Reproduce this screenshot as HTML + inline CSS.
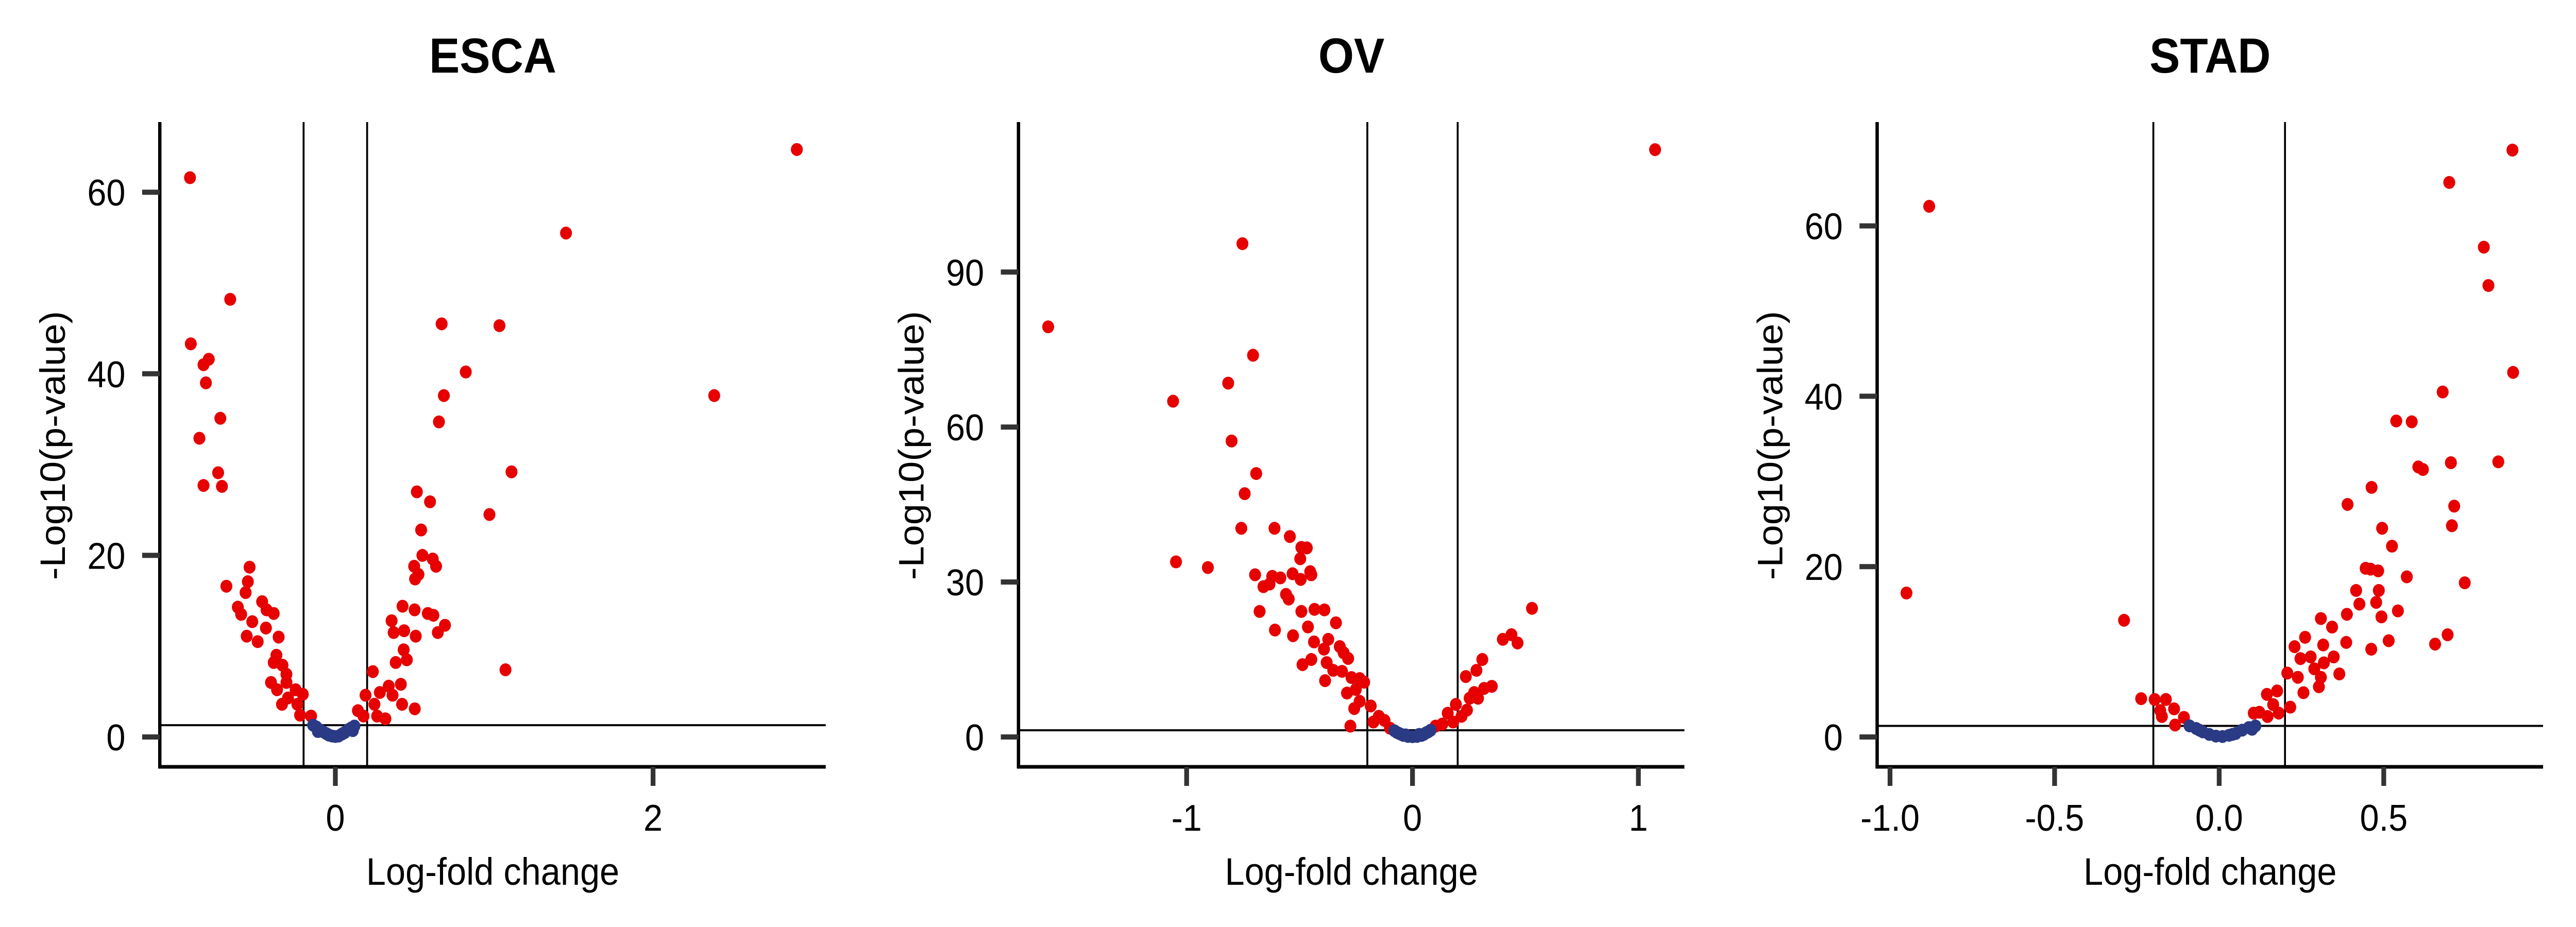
<!DOCTYPE html>
<html><head><meta charset="utf-8"><style>
html,body{margin:0;padding:0;background:#fff;overflow:hidden;width:100%;height:100%;}
svg{display:block;width:100vw;height:100vh;font-family:"Liberation Sans",Arial,sans-serif;}
</style></head><body>
<svg id="chart" viewBox="0 0 5400 1800" preserveAspectRatio="none" xmlns="http://www.w3.org/2000/svg"></svg>
<script>
const panelTitles = ["ESCA","OV","STAD"];
const escaRed = [[-0.915,61.6],[-0.91,43.3],[-0.83,41.0],[-0.797,41.6],[-0.815,39.0],[-0.724,35.1],[-0.856,32.9],[-0.738,29.1],[-0.83,27.7],[-0.714,27.6],[-0.662,48.2],[0.669,45.5],[1.033,45.3],[0.821,40.2],[0.683,37.6],[0.652,34.7],[1.452,55.5],[2.905,64.7],[2.385,37.6],[1.109,29.2],[0.97,24.5],[1.071,7.4],[0.513,27.0],[0.596,25.9],[0.54,22.8],[0.548,20.0],[0.613,19.6],[0.634,18.8],[0.496,18.8],[0.523,17.9],[0.502,17.4],[0.423,14.4],[0.499,14.0],[0.582,13.6],[0.617,13.4],[0.69,12.3],[0.645,11.5],[0.354,12.8],[0.367,11.5],[0.433,11.7],[0.506,11.1],[0.43,9.6],[0.45,8.5],[0.38,8.2],[0.236,7.2],[0.412,5.8],[0.336,5.6],[0.36,4.6],[0.42,3.6],[0.5,3.1],[0.19,4.6],[0.28,4.9],[0.246,3.6],[0.315,2.0],[0.142,2.9],[0.177,2.3],[0.263,2.3],[-0.54,18.7],[-0.551,17.1],[-0.565,15.9],[-0.686,16.6],[-0.461,14.9],[-0.614,14.3],[-0.593,13.5],[-0.523,12.7],[-0.433,14.0],[-0.388,13.6],[-0.437,12.0],[-0.558,11.1],[-0.489,10.5],[-0.357,11.0],[-0.371,9.0],[-0.388,8.2],[-0.333,7.9],[-0.308,6.9],[-0.405,6.0],[-0.367,5.2],[-0.308,6.0],[-0.25,5.2],[-0.205,4.7],[-0.336,3.6],[-0.298,4.3],[-0.222,2.4],[-0.153,2.3],[-0.239,3.6]];
const escaBlue = [[-0.14,1.3],[-0.12,1.1],[-0.1,0.8],[-0.08,0.6],[-0.06,0.4],[-0.04,0.2],[-0.02,0.1],[0,0.05],[0.02,0.1],[0.04,0.3],[0.06,0.5],[0.08,0.8],[0.1,1.0],[0.12,1.2],[-0.11,0.6],[0.11,0.7],[-0.05,0.3],[0.05,0.4]];
const ovRed = [[1.074,113.7],[-0.753,95.5],[-1.613,79.4],[-0.706,73.9],[-0.816,68.5],[-1.06,65.0],[-0.801,57.3],[-0.692,51.0],[-0.743,47.1],[-0.758,40.4],[-0.611,40.4],[-0.543,38.8],[-0.492,36.7],[-0.468,36.6],[-0.497,34.5],[-1.047,33.9],[-0.906,32.8],[-0.697,31.4],[-0.621,31.1],[-0.585,30.8],[-0.531,31.6],[-0.453,32.0],[-0.448,31.4],[-0.495,30.5],[-0.66,29.1],[-0.633,29.6],[-0.56,27.6],[-0.548,26.7],[-0.677,24.3],[-0.492,24.3],[-0.434,24.7],[-0.39,24.6],[-0.339,22.1],[-0.609,20.7],[-0.463,21.3],[-0.529,19.6],[-0.436,18.4],[-0.373,18.9],[-0.322,17.5],[-0.392,17.0],[-0.305,16.3],[-0.285,15.2],[-0.448,15.0],[-0.487,14.0],[-0.38,14.4],[-0.351,12.9],[-0.312,12.7],[-0.387,10.9],[-0.27,11.5],[-0.234,11.3],[-0.214,10.6],[-0.29,8.5],[-0.251,9.2],[-0.234,6.9],[-0.258,5.5],[-0.185,6.0],[-0.149,4.0],[-0.124,3.2],[-0.275,2.1],[-0.173,2.9],[-0.1,1.7],[0.529,24.9],[0.438,19.8],[0.4,18.9],[0.465,18.2],[0.309,15.0],[0.283,12.9],[0.236,11.7],[0.351,9.8],[0.317,9.4],[0.273,8.6],[0.253,7.5],[0.29,7.5],[0.192,6.3],[0.241,5.2],[0.217,4.0],[0.156,4.6],[0.132,2.5],[0.102,2.1],[0.18,2.9]];
const ovBlue = [[-0.08,1.2],[-0.07,0.9],[-0.06,0.7],[-0.05,0.5],[-0.04,0.3],[-0.02,0.1],[0,0.05],[0.02,0.1],[0.04,0.3],[0.05,0.5],[0.06,0.8],[0.07,1.0],[0.08,1.3],[-0.03,0.4],[0.03,0.5]];
const stadRed = [[-0.881,62.3],[-0.95,16.9],[-0.289,13.7],[-0.237,4.5],[-0.196,4.4],[-0.162,4.4],[-0.179,3.1],[-0.137,3.3],[-0.107,2.3],[-0.174,2.4],[-0.134,1.4],[0.891,68.9],[0.699,65.1],[0.804,57.5],[0.818,53.0],[0.893,42.8],[0.679,40.5],[0.538,37.1],[0.585,37.0],[0.704,32.2],[0.848,32.3],[0.605,31.7],[0.619,31.4],[0.463,29.3],[0.39,27.3],[0.714,27.1],[0.707,24.8],[0.495,24.5],[0.525,22.4],[0.445,19.8],[0.46,19.7],[0.483,19.5],[0.57,18.8],[0.746,18.1],[0.416,17.2],[0.485,17.2],[0.426,15.6],[0.477,15.8],[0.543,14.8],[0.388,14.4],[0.493,14.1],[0.309,13.9],[0.343,12.9],[0.261,11.7],[0.229,10.6],[0.316,10.8],[0.386,11.1],[0.515,11.3],[0.694,12.0],[0.656,10.9],[0.462,10.3],[0.247,9.2],[0.278,9.4],[0.318,8.7],[0.348,9.4],[0.289,8.0],[0.365,7.4],[0.207,7.5],[0.239,7.0],[0.309,7.0],[0.256,5.2],[0.303,5.9],[0.145,5.0],[0.176,5.4],[0.216,3.5],[0.164,3.8],[0.122,2.9],[0.147,2.4],[0.181,2.8],[0.105,2.8]];
const stadBlue = [[-0.09,1.3],[-0.07,1.0],[-0.05,0.6],[-0.03,0.3],[-0.01,0.1],[0.01,0.05],[0.03,0.2],[0.05,0.4],[0.07,0.8],[0.09,1.1],[0.11,1.3],[0.1,0.9],[-0.06,0.8],[0.04,0.3]];
const escaXTicks = [0,2], escaXLabels = ["0","2"], escaYTicks = [0,20,40,60];
const ovXTicks = [-1,0,1], ovXLabels = ["-1","0","1"], ovYTicks = [0,30,60,90];
const stadXTicks = [-1,-0.5,0,0.5], stadXLabels = ["-1.0","-0.5","0.0","0.5"], stadYTicks = [0,20,40,60];
const fcThreshold = 0.2, pThreshold = 1.3;

const NS="http://www.w3.org/2000/svg";
const svg=document.getElementById('chart');
function mk(tag,attrs,parent){const e=document.createElementNS(NS,tag);for(const k in attrs)e.setAttribute(k,attrs[k]);(parent||svg).appendChild(e);return e;}

const panels=[
 {off:0,x0:703,xu:333,yu:17.63,red:escaRed,blue:escaBlue,xt:escaXTicks,xl:escaXLabels,yt:escaYTicks,key:'esca'},
 {off:1800,x0:1161,xu:473.5,yu:10.03,red:ovRed,blue:ovBlue,xt:ovXTicks,xl:ovXLabels,yt:ovYTicks,key:'ov'},
 {off:3600,x0:1052,xu:690,yu:16.54,red:stadRed,blue:stadBlue,xt:stadXTicks,xl:stadXLabels,yt:stadYTicks,key:'stad'}
];
const Y0=1431, AX=335, AY=1489, TOP=237, RIGHT=1731;
panels.forEach((p,i)=>{
 const g=mk('g',{transform:`translate(${p.off},0)`});
 
 
 const sx=v=>p.x0+v*p.xu, sy=v=>Y0-v*p.yu;
 const t=mk('text',{x:1033,y:141,'text-anchor':'middle','font-size':96,'font-weight':'bold',fill:'#000'},g);
 t.textContent=panelTitles[i];
 
 
 [-fcThreshold,fcThreshold].forEach(v=>{
  const l=mk('line',{x1:sx(v),x2:sx(v),y1:TOP,y2:AY,stroke:'#000','stroke-width':4},g);
  
  
 });
 const h=mk('line',{x1:AX,x2:RIGHT,y1:sy(pThreshold),y2:sy(pThreshold),stroke:'#000','stroke-width':4},g);
 
 
 p.red.forEach(d=>{
  const c=mk('circle',{cx:sx(d[0]),cy:sy(d[1]),r:12.5,fill:'#e60000'},g);
  
  
 });
 p.blue.forEach(d=>{
  const c=mk('circle',{cx:sx(d[0]),cy:sy(d[1]),r:12.5,fill:'#2b3a85'},g);
  
  
 });
 const ya=mk('line',{x1:AX,x2:AX,y1:TOP,y2:AY+3,stroke:'#000','stroke-width':7},g);
 
 
 const xa=mk('line',{x1:AX-3,x2:RIGHT,y1:AY,y2:AY,stroke:'#000','stroke-width':7},g);
 
 
 p.yt.forEach(v=>{
  const tk=mk('line',{x1:298,x2:AX,y1:sy(v),y2:sy(v),stroke:'#333','stroke-width':10},g);
  
  
  const tl=mk('text',{x:263,y:sy(v)+26,'text-anchor':'end','font-size':72,fill:'#000'},g);
  tl.textContent=String(v);
  
  
 });
 p.xt.forEach((v,j)=>{
  const tk=mk('line',{x1:sx(v),x2:sx(v),y1:AY,y2:AY+37,stroke:'#333','stroke-width':10},g);
  
  
  const tl=mk('text',{x:sx(v),y:1613,'text-anchor':'middle','font-size':72,fill:'#000'},g);
  tl.textContent=p.xl[j];
  
  
 });
 const xt=mk('text',{x:1033,y:1718,'text-anchor':'middle','font-size':74,fill:'#000'},g);
 xt.textContent='Log-fold change';
 
 
 const yt=mk('text',{x:0,y:0,'text-anchor':'middle','font-size':74,fill:'#000',transform:'translate(136,865) rotate(-90)'},g);
 yt.textContent='-Log10(p-value)';
 
 
});
</script>
</body></html>
